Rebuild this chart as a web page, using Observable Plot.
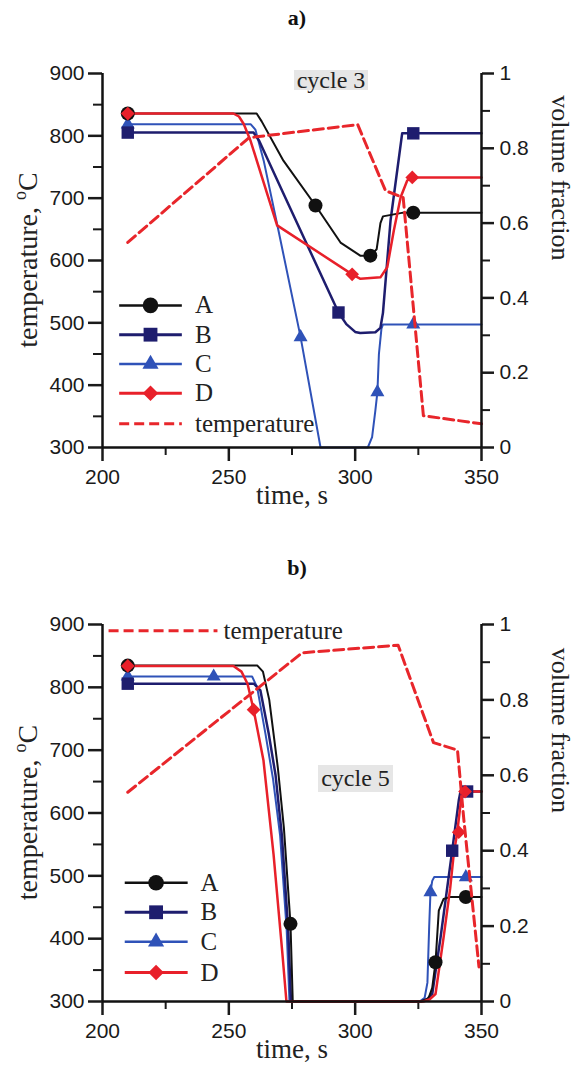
<!DOCTYPE html>
<html><head><meta charset="utf-8">
<script src="https://cdn.jsdelivr.net/npm/d3@7"></script>
<script src="https://cdn.jsdelivr.net/npm/@observablehq/plot@0.6"></script>
<style>
body{margin:0;background:#fff;width:577px;height:1072px;position:relative;overflow:hidden}
.title{position:absolute;left:0;width:594px;text-align:center;font:bold 22px "Liberation Serif";line-height:22px;color:#111}
.cycle{position:absolute;background:#e6e6e6;font:24px "Liberation Serif";color:#222;text-align:center;line-height:20px;white-space:nowrap}
#p1{position:absolute;left:0;top:0}
#p2{position:absolute;left:0;top:540px}
</style></head><body>
<div id="p1"></div><div id="p2"></div>
<div class="title" style="top:7px">a)</div>
<div class="title" style="top:557px">b)</div>
<div class="cycle" style="left:294px;top:70px;width:74px;height:20px">cycle 3</div>
<div class="cycle" style="left:318px;top:765px;width:75px;height:27px;line-height:27px">cycle 5</div>
<script>
// ---- axes ----
const timeTicks = [200, 250, 300, 350];
const timeMinor = [225, 275, 325];
const tempTicks = [300, 400, 500, 600, 700, 800, 900];
const tempMinor = [350, 450, 550, 650, 750, 850];
const fracTicks = [0, 0.2, 0.4, 0.6, 0.8, 1];
const fracMinor = [0.1, 0.3, 0.5, 0.7, 0.9];
const seriesNames = ["A", "B", "C", "D"];

// ---- cycle 3 : [time s, value] ----
const c3Temp = [[210,629],[258,797],[301,818],[312,712],[319,701],[327,351],[350,338]];
const c3A = [[210,0.893],[261,0.893],[263,0.872],[271.6,0.767],[284.3,0.647],[294.2,0.548],[302,0.513],[306,0.513],[308.5,0.53],[310,0.6],[311,0.618],[319,0.628],[350,0.628]];
const c3B = [[210,0.842],[259.8,0.842],[262,0.82],[271.6,0.679],[293.4,0.361],[296.5,0.33],[300,0.309],[302,0.306],[308,0.308],[310,0.32],[311,0.36],[314,0.607],[318.6,0.84],[350,0.84]];
const c3C = [[210,0.864],[258.7,0.864],[260.5,0.85],[263.8,0.767],[269.5,0.585],[278.4,0.295],[286.3,0],[305,0],[306.7,0.028],[308,0.099],[308.8,0.148],[309.4,0.25],[310.4,0.318],[311,0.329],[350,0.329]];
const c3D = [[210,0.893],[251.8,0.893],[254,0.885],[255.9,0.865],[258.6,0.82],[269.1,0.594],[298.8,0.463],[302.1,0.451],[310,0.455],[312.7,0.482],[315.3,0.58],[318,0.669],[320.6,0.714],[322.6,0.722],[350,0.722]];
const c3MarkA = [[210,0.893],[284.3,0.647],[306,0.513],[323,0.628]];
const c3MarkB = [[210,0.842],[293.4,0.361],[323,0.84]];
const c3MarkC = [[210,0.864],[278.4,0.295],[308.8,0.148],[323,0.329]];
const c3MarkD = [[210,0.893],[298.8,0.463],[322.6,0.722]];

// ---- cycle 5 ----
const c5Temp = [[210,633],[279,855],[317,867],[331,712],[335,707],[340.5,700],[343,590],[349,355]];
const c5A = [[210,0.891],[261.3,0.891],[263.5,0.875],[266,0.8],[269.4,0.62],[271.8,0.46],[274.4,0.206],[275.3,0],[326,0],[329,0.008],[330.5,0.036],[331.8,0.104],[333.1,0.241],[335,0.272],[337.6,0.277],[350,0.277]];
const c5B = [[210,0.843],[259.9,0.843],[262.5,0.825],[265.8,0.71],[268.5,0.6],[271,0.44],[273.5,0.19],[274.6,0],[326,0],[328.5,0.006],[330.5,0.02],[333.8,0.17],[336.4,0.3],[338.4,0.4],[341,0.533],[341.7,0.557],[350,0.557]];
const c5C = [[210,0.862],[259.2,0.862],[261.2,0.834],[264.5,0.71],[267.5,0.59],[270.3,0.44],[272.9,0.19],[274,0],[325.5,0],[327.5,0.01],[328.6,0.05],[329.3,0.2],[329.8,0.29],[330.5,0.32],[331.3,0.33],[350,0.33]];
const c5D = [[210,0.89],[251.8,0.89],[255,0.875],[257.4,0.843],[259.8,0.774],[263.7,0.64],[267.7,0.39],[271.2,0.127],[272.8,0],[327,0],[329.5,0.006],[331.8,0.02],[335,0.17],[337.6,0.3],[339,0.39],[340.4,0.449],[342.3,0.557],[350,0.557]];
const c5MarkA = [[210,0.891],[274.4,0.206],[331.8,0.104],[343.8,0.277]];
const c5MarkB = [[210,0.843],[338.4,0.4],[344.3,0.557]];
const c5MarkC = [[210,0.862],[244,0.862],[329.8,0.29],[343.8,0.33]];
const c5MarkD = [[210,0.89],[259.8,0.774],[341,0.449],[343.5,0.557]];

// ---- styles ----
const colors = {A:"#111111", B:"#1e1d6e", C:"#2f52b8", D:"#e8202a", T:"#e8262b"};
const widths = {A:2, B:2.5, C:2, D:2.5};
const symbols = {A:"circle", B:"square", C:"triangle", D:"diamond2"};
const radii = {A:7, B:7, C:5.2, D:6.2};

const fy = v => 300 + 600 * v;
const fmtFrac = d => String(+((d - 300) / 600).toFixed(2));

function panel(cfg) {
  const marks = [
    Plot.axisX({ticks: timeMinor, tickSize: 8, strokeWidth: 2, fill: "none", label: null}),
    Plot.axisX({ticks: timeTicks, tickSize: 14, tickPadding: 8, strokeWidth: 2.5, fontSize: 21, label: null}),
    Plot.axisY({anchor: "left", ticks: tempMinor, tickSize: 9, strokeWidth: 2, fill: "none", label: null}),
    Plot.axisY({anchor: "left", ticks: tempTicks, tickSize: 14, tickPadding: 4, strokeWidth: 2.5, fontSize: 21, label: null}),
    Plot.axisY({anchor: "right", ticks: fracMinor.map(fy), tickSize: 8, strokeWidth: 2, fill: "none", label: null}),
    Plot.axisY({anchor: "right", ticks: fracTicks.map(fy), tickSize: 12, tickPadding: 6, strokeWidth: 2.5, fontSize: 21, label: null, tickFormat: fmtFrac}),
  ];
  const order = ["C", "B", "A", "D"];
  for (const k of order) {
    marks.push(Plot.line(cfg.lines[k], {x: d => d[0], y: d => fy(d[1]), stroke: colors[k], strokeWidth: widths[k]}));
  }
  for (const k of order) {
    marks.push(Plot.dot(cfg.marks[k], {x: d => d[0], y: d => fy(d[1]), symbol: symbols[k], r: radii[k], fill: colors[k], stroke: "none"}));
  }
  marks.push(Plot.line(cfg.temp, {x: d => d[0], y: d => d[1], stroke: colors.T, strokeWidth: 3, strokeDasharray: "10,5"}));
  // legend
  const L = cfg.legend;
  seriesNames.forEach((k, i) => {
    const y = L.rows[i];
    marks.push(Plot.link([k], {x1: L.x0, x2: L.x1, y1: y, y2: y, stroke: colors[k], strokeWidth: widths[k] + 0.5}));
    marks.push(Plot.dot([k], {x: L.xm, y: y, symbol: symbols[k], r: radii[k] + 0.8, fill: colors[k]}));
    marks.push(Plot.text([k], {x: L.xt, y: y, text: d => d, textAnchor: "start", fontFamily: "Liberation Serif", fontSize: 25, fill: "#222"}));
  });
  marks.push(Plot.link(["temperature"], {x1: L.tx0, x2: L.tx1, y1: L.ty, y2: L.ty, stroke: colors.T, strokeWidth: 3, strokeDasharray: "10,5"}));
  marks.push(Plot.text(["temperature"], {x: L.txt, y: L.ty, text: d => d, textAnchor: "start", fontFamily: "Liberation Serif", fontSize: 25, fill: "#222"}));
  // frame lines
  marks.push(Plot.ruleX([200, 350], {strokeWidth: 2.5, stroke: "#111"}));
  marks.push(Plot.ruleY([300], {strokeWidth: 2.5, stroke: "#111"}));
  // axis titles
  marks.push(Plot.text(["time, s"], {frameAnchor: "bottom", dy: 56, fontFamily: "Liberation Serif", fontSize: 27, fill: "#222"}));
  marks.push(Plot.text(["volume fraction"], {frameAnchor: "right", dx: 79, rotate: 90, fontFamily: "Liberation Serif", fontSize: 26, fill: "#222"}));

  const svg = Plot.plot({
    width: 577, height: cfg.height,
    marginLeft: 102, marginRight: 96, marginTop: cfg.mt, marginBottom: cfg.mb,
    x: {domain: [200, 350]},
    y: {domain: [300, 900]},
    style: {fontFamily: "Liberation Sans", fontSize: "21px", color: "#1a1a1a", background: "transparent", overflow: "visible"},
    marks
  });
  // temperature axis title with superscript o
  const top = cfg.mt, bot = cfg.height - cfg.mb;
  const t = d3.select(svg).append("text")
    .attr("transform", `translate(37,${(top + bot) / 2}) rotate(-90)`)
    .attr("text-anchor", "middle")
    .attr("font-family", "Liberation Serif").attr("font-size", 28).attr("fill", "#222");
  t.append("tspan").text("temperature, ");
  t.append("tspan").attr("font-size", 18).attr("dy", -11).text("o");
  t.append("tspan").attr("dy", 11).text("C");
  return svg;
}

document.getElementById("p1").append(panel({
  height: 540, mt: 73, mb: 93,
  lines: {A: c3A, B: c3B, C: c3C, D: c3D},
  marks: {A: c3MarkA, B: c3MarkB, C: c3MarkC, D: c3MarkD},
  temp: c3Temp,
  legend: {rows: [528, 481, 434, 387], x0: 206.6, x1: 231.4, xm: 219, xt: 236.6, tx0: 206.6, tx1: 231.4, ty: 338, txt: 236.6}
}));
document.getElementById("p2").append(panel({
  height: 532, mt: 84, mb: 71,
  lines: {A: c5A, B: c5B, C: c5C, D: c5D},
  marks: {A: c5MarkA, B: c5MarkB, C: c5MarkC, D: c5MarkD},
  temp: c5Temp,
  legend: {rows: [489, 442, 395, 346], x0: 208.8, x1: 233.7, xm: 221.2, xt: 238.8, tx0: 202.4, tx1: 245.5, ty: 890, txt: 247.9}
}));
</script>
</body></html>
